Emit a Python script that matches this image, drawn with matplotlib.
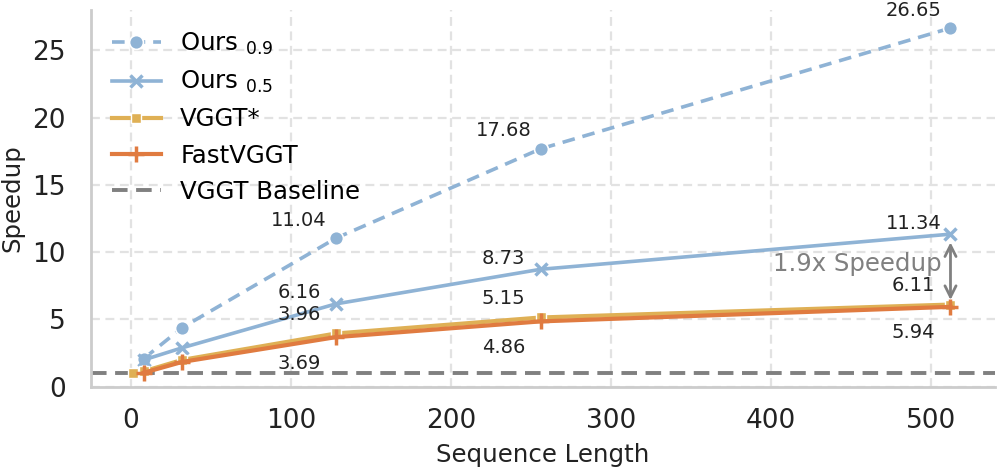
import matplotlib
matplotlib.use('Agg')
import matplotlib.pyplot as plt
import numpy as np

# data
seq_len = [8, 32, 128, 256, 512]
ours_09 = [2.1, 4.4, 11.04, 17.68, 26.65]
ours_05 = [2.0, 2.9, 6.16, 8.73, 11.34]
vggt_star_x = [1, 8, 32, 128, 256, 512]
vggt_star = [1.0, 1.15, 2.0, 3.96, 5.15, 6.11]
fastvggt = [1.05, 1.85, 3.69, 4.86, 5.94]
baseline = 1.0

c_ours = '#8fb3d5'
c_vggt = '#dfb055'
c_fast = '#e07b40'
c_base = '#808080'

plt.rcParams['font.family'] = ['DejaVu Sans']
fig = plt.figure(figsize=(9.97, 4.70), dpi=100)
ax = fig.add_axes([0.0913, 0.177, 0.907, 0.802])

ax.axhline(baseline, color=c_base, lw=2.8, ls=(0, (4, 2.2)), label='VGGT Baseline', zorder=2)
ax.plot(seq_len, ours_09, color=c_ours, lw=2.6, ls=(0, (3.5, 2.2)), marker='o', ms=10,
        mec='white', mew=1.2, label='Ours $_{0.9}$', zorder=3)
ax.plot(seq_len, ours_05, color=c_ours, lw=2.6, marker='x', ms=9, mew=2.5,
        label='Ours $_{0.5}$', zorder=4)
ax.plot(vggt_star_x, vggt_star, color=c_vggt, lw=3, marker='s', ms=7,
        mec='white', mew=1.0, label='VGGT*', zorder=4)
ax.plot(seq_len, fastvggt, color=c_fast, lw=3, marker='+', ms=11, mew=2.5,
        label='FastVGGT', zorder=5)

# value labels for the last three points
def label(xs, ys, dy):
    for xv, yv in list(zip(xs, ys))[-3:]:
        ax.annotate('%.2f' % yv, (xv, yv), xytext=(-37, dy), textcoords='offset pixels',
                    ha='center', va='center', fontsize=14, color='#222222', zorder=6)

label(seq_len, ours_09, 18)
label(seq_len, ours_05, 11)
label(vggt_star_x, vggt_star, 19)
label(seq_len, fastvggt, -26)

# speedup arrow
ax.annotate('', xy=(seq_len[-1], fastvggt[-1] + 0.3), xytext=(seq_len[-1], ours_05[-1] - 0.4),
            arrowprops=dict(arrowstyle='<->', color=c_base, lw=2, mutation_scale=20), zorder=6)
ax.text(454, 9.1, '1.9x Speedup', color=c_base, fontsize=17.6, ha='center', va='center', zorder=6)

ax.set_xlim(-25, 540)
ax.set_ylim(0, 28)
ax.set_xticks([0, 100, 200, 300, 400, 500])
ax.set_yticks([0, 5, 10, 15, 20, 25])
ax.tick_params(labelsize=19, length=0, colors='#222222')
ax.tick_params(axis='x', pad=15)
ax.tick_params(axis='y', pad=18)
ax.set_xlabel('Sequence Length', fontsize=17.6, color='#222222', labelpad=7)
ax.set_ylabel('Speedup', fontsize=17.6, color='#222222', labelpad=6)
ax.grid(True, ls=(0, (4, 2.5)), color='#e2e2e2', lw=1.6, zorder=0)
ax.set_axisbelow(True)
for s in ['top', 'right']:
    ax.spines[s].set_visible(False)
for s in ['left', 'bottom']:
    ax.spines[s].set_color('#cccccc')
    ax.spines[s].set_linewidth(2)

h, l = ax.get_legend_handles_labels()
order = [1, 2, 3, 4, 0]
ax.legend([h[i] for i in order], [l[i] for i in order], loc='upper left', frameon=False,
          fontsize=17.6, bbox_to_anchor=(0.0, 1.0), borderaxespad=0.45)

fig.savefig('out.png', dpi=100)
